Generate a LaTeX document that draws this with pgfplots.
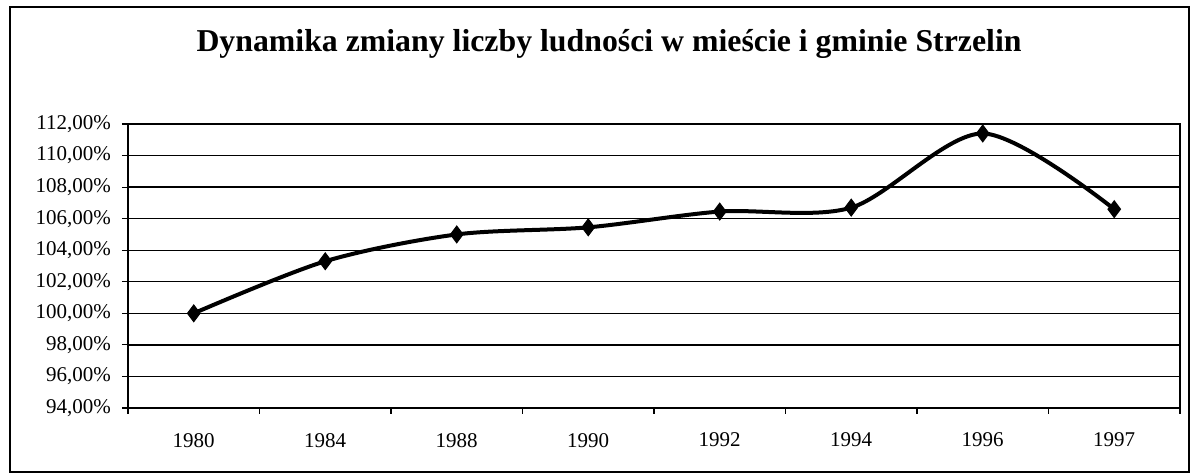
\documentclass[border=0pt]{standalone}
\usepackage{fontspec}
\setmainfont{Liberation Serif}
\usepackage{pgfplots}
\pgfplotsset{compat=1.18}

\begin{document}
\begin{tikzpicture}[x=1pt,y=1pt]
% canvas and outer frame (1 px of the scan = 0.5 pt)
\useasboundingbox (-64,-33.5) rectangle (531.5,204);
\draw[line width=0.9pt] (-59,-32) rectangle (530.5,200.5);
\node[font=\bfseries\fontsize{15.9}{18}\selectfont] at (240.5,182)
  {Dynamika zmiany liczby ludności w mieście i gminie Strzelin};
\begin{axis}[
    at={(0,0)}, anchor=south west,
    scale only axis,
    width=526pt, height=142pt,
    xmin=-0.5, xmax=7.5,
    ymin=94, ymax=112,
    ytick={94,96,...,112},
    xtick={0,...,7},
    xticklabels={1980,1984,1988,1990,1992,1994,1996,1997},
    minor xtick={-0.5,0.5,...,7.5},
    major x tick style={draw=none},
    minor x tick style={black, line width=0.6pt},
    minor tick length=3pt,
    major tick length=3pt,
    tick align=outside,
    xtick pos=bottom, ytick pos=left,
    ymajorgrids,
    grid style={black, line width=0.7pt},
    axis line style={black, line width=0.9pt},
    ytick style={black, line width=0.6pt},
    tick label style={font=\fontsize{10.5}{12}\selectfont},
    /pgf/number format/assume math mode=true,
    yticklabel={\pgfmathprintnumber[fixed,fixed zerofill,precision=2,use comma]{\tick}\%},
    xticklabel style={yshift=-6pt},
    yticklabel style={xshift=-2pt},
    clip=false,
]
\addplot[black, line width=2pt, smooth, mark=diamond*, mark size=4.2pt,
         mark options={fill=black, line width=0.5pt}]
coordinates {
(0,100.0) (1,103.3) (2,105.0) (3,105.45) (4,106.45) (5,106.7) (6,111.4) (7,106.6)
};
\end{axis}
\end{tikzpicture}
\end{document}
